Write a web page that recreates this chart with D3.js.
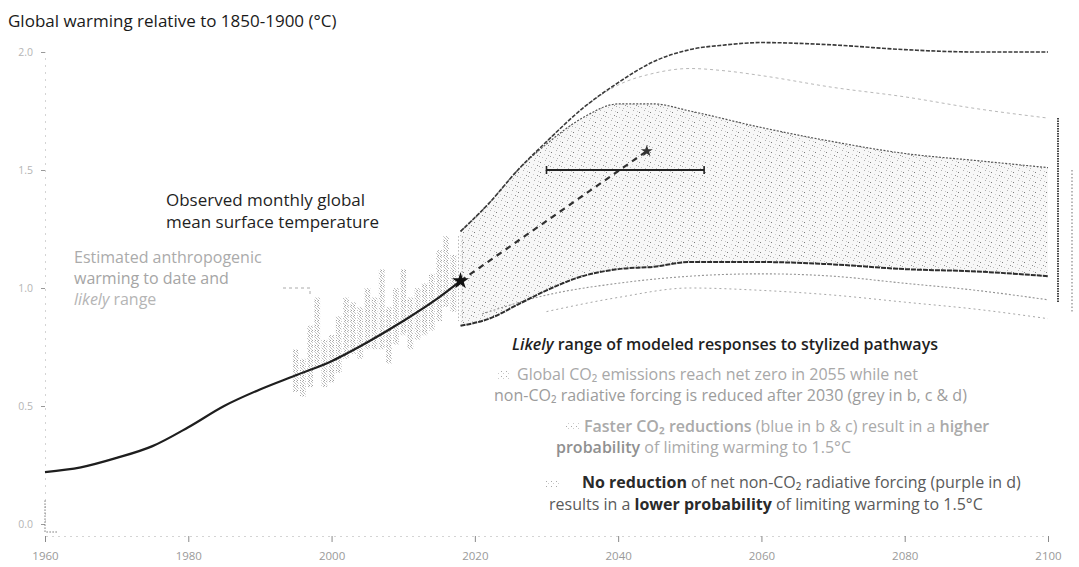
<!DOCTYPE html>
<html>
<head>
<meta charset="utf-8">
<script src="https://cdn.jsdelivr.net/npm/d3@7"></script>
<style>
  html, body { margin: 0; padding: 0; background: #fff; }
  svg { display: block; font-family: "Open Sans", "Noto Sans", sans-serif; }
</style>
</head>
<body>
<svg id="chart" width="1079" height="567"></svg>
<script>
// ---- axis ticks ----
const xTicks = [1960, 1980, 2000, 2020, 2040, 2060, 2080, 2100];
const yTicks = [0, 0.5, 1.0, 1.5, 2.0];

// ---- estimated anthropogenic warming (°C) ----
const anthroYears   = [1960, 1965, 1970, 1975, 1980, 1985, 1990, 1995, 2000, 2005, 2010, 2015, 2018];
const anthroWarming = [0.22, 0.24, 0.28, 0.33, 0.41, 0.50, 0.57, 0.63, 0.69, 0.77, 0.86, 0.96, 1.03];
const anthroLikelyRange = [0.86, 1.22];   // likely range at present day
const presentYear = 2018;

// ---- observed monthly GMST: yearly min / max of the monthly values ----
const obsYears = [1995, 1996, 1997, 1998, 1999, 2000, 2001, 2002, 2003, 2004, 2005, 2006,
                  2007, 2008, 2009, 2010, 2011, 2012, 2013, 2014, 2015, 2016, 2017];
const obsLow  = [0.56, 0.54, 0.58, 0.66, 0.58, 0.60, 0.64, 0.70, 0.72, 0.70, 0.74, 0.74,
                 0.74, 0.68, 0.76, 0.80, 0.74, 0.78, 0.80, 0.82, 0.86, 0.92, 0.90];
const obsHigh = [0.74, 0.70, 0.84, 0.96, 0.78, 0.80, 0.88, 0.96, 0.94, 0.92, 1.00, 0.96,
                 1.08, 0.92, 1.00, 1.08, 0.96, 1.00, 1.02, 1.06, 1.16, 1.22, 1.14];

// ---- current rate of warming continued, and time 1.5°C is reached ----
const trendYears   = [2018, 2044];
const trendWarming = [1.03, 1.58];
const reachLevel = 1.5;
const reachRange = [2030, 2052];

// ---- modelled pathway ranges ----
const plumeYears = [2018, 2022, 2026, 2030, 2035, 2040, 2045, 2050, 2060, 2070, 2080, 2090, 2100];
const greyUpper  = [1.24, 1.36, 1.50, 1.61, 1.72, 1.78, 1.78, 1.75, 1.68, 1.62, 1.57, 1.54, 1.51];
const greyLower  = [0.84, 0.87, 0.93, 0.99, 1.05, 1.08, 1.09, 1.11, 1.11, 1.10, 1.08, 1.07, 1.05];

const purpleYears = [2018, 2022, 2026, 2030, 2035, 2040, 2045, 2050, 2055, 2060, 2070, 2080, 2090, 2100];
const purpleUpper = [1.24, 1.36, 1.50, 1.62, 1.76, 1.87, 1.96, 2.01, 2.03, 2.04, 2.03, 2.01, 2.00, 2.00];

const upperAltYears = [2030, 2035, 2040, 2045, 2050, 2055, 2060, 2070, 2080, 2090, 2100];
const upperAlt      = [1.62, 1.76, 1.86, 1.91, 1.93, 1.92, 1.90, 1.85, 1.81, 1.76, 1.72];

const blueLowerYears = [2021, 2030, 2040, 2050, 2060, 2070, 2080, 2090, 2100];
const blueLower      = [0.89, 0.97, 1.02, 1.05, 1.06, 1.05, 1.02, 0.99, 0.95];

const lowestYears = [2030, 2040, 2050, 2060, 2070, 2080, 2090, 2100];
const lowest      = [0.90, 0.96, 1.00, 0.99, 0.97, 0.94, 0.91, 0.87];

// ranges at 2100
const endRangeDark  = [0.94, 1.72];
const endRangeLight = [0.90, 1.50];

// ---------------------------------------------------------------
const svg = d3.select("#chart");
const x = d3.scaleLinear().domain([1960, 2100]).range([45, 1048]);
const y = d3.scaleLinear().domain([0, 2]).range([524, 52]);
const axisY = 536;

const zip = (xs, ys) => xs.map((v, i) => [v, ys[i]]);

// stipple textures
const defs = svg.append("defs");
function stipple(id, w, h, bg, dots) {
  const p = defs.append("pattern").attr("id", id)
    .attr("patternUnits", "userSpaceOnUse").attr("width", w).attr("height", h);
  if (bg) p.append("rect").attr("width", w).attr("height", h).attr("fill", bg);
  dots.forEach(([dx, dy, c]) => p.append("rect").attr("x", dx).attr("y", dy)
    .attr("width", 1).attr("height", 1).attr("fill", c));
}
stipple("plumeDots", 11, 10, "#f7f7f7",
  [[1, 2, "#7a7a7a"], [6, 0, "#b0b0b0"], [9, 5, "#8c8c8c"], [3, 7, "#c0c0c0"],
   [0, 6, "#a5a5a5"], [7, 8, "#b5b5b5"], [5, 4, "#cfcfcf"], [10, 1, "#c8c8c8"]]);
stipple("obsDots", 3, 5, null,
  [[0, 0, "#a0a0a0"], [0, 2, "#c4c4c4"], [2, 1, "#b4b4b4"], [2, 4, "#d0d0d0"], [1, 3, "#bdbdbd"]]);
stipple("swatchDots", 5, 5, null, [[1, 1, "#aaa"], [3, 3, "#ccc"]]);

// ---- axes ----
const xAxis = d3.axisBottom(x).tickValues(xTicks).tickFormat(d3.format("d"))
  .tickSize(6).tickPadding(10);
const gx = svg.append("g").attr("transform", `translate(0,${axisY})`).call(xAxis);
gx.select(".domain").attr("stroke", "#d4d4d4").attr("stroke-dasharray", "2,4");
gx.selectAll(".tick line").attr("stroke", "#8a8a8a");
gx.selectAll(".tick text").attr("fill", "#9a9a9a").attr("font-size", 11.5)
  .attr("font-family", "'Open Sans', sans-serif");

const yAxis = d3.axisLeft(y).tickValues(yTicks).tickFormat(d3.format(".1f"))
  .tickSize(4).tickPadding(8);
const gy = svg.append("g").attr("transform", `translate(${x(1960)},0)`).call(yAxis);
gy.select(".domain").attr("stroke", "#d4d4d4").attr("stroke-dasharray", "2,5");
gy.selectAll(".tick line").attr("stroke", "#999");
gy.selectAll(".tick text").attr("fill", "#b5b5b5").attr("font-size", 10.5)
  .attr("font-family", "'Open Sans', sans-serif");
svg.append("path")
  .attr("d", `M${x(1960)},${y(0.1)}V${axisY - 4}H${x(1960) + 12}`)
  .attr("fill", "none").attr("stroke", "#777").attr("stroke-dasharray", "1.5,1.5");

// ---- modelled grey plume (stippled) ----
const area = d3.area().curve(d3.curveMonotoneX)
  .x((d, i) => x(plumeYears[i])).y0((d, i) => y(greyLower[i])).y1((d, i) => y(greyUpper[i]));
svg.append("path").datum(plumeYears).attr("d", area).attr("fill", "url(#plumeDots)");

// ---- observed monthly GMST (stippled yearly spread) ----
svg.append("g").selectAll("rect").data(obsYears).join("rect")
  .attr("x", d => x(d - 0.4)).attr("width", d => x(d + 0.4) - x(d - 0.4))
  .attr("y", (d, i) => y(obsHigh[i])).attr("height", (d, i) => y(obsLow[i]) - y(obsHigh[i]))
  .attr("fill", "url(#obsDots)");

// likely range of present-day anthropogenic warming
svg.append("g").selectAll("line").data([-2, 2]).join("line")
  .attr("x1", d => x(presentYear) + d).attr("x2", d => x(presentYear) + d)
  .attr("y1", y(anthroLikelyRange[1])).attr("y2", y(anthroLikelyRange[0]))
  .attr("stroke", "#b5b5b5").attr("stroke-width", 1).attr("stroke-dasharray", "1.5,2");

// ---- pathway range outlines ----
const line = d3.line().curve(d3.curveMonotoneX).x(d => x(d[0])).y(d => y(d[1]));
function outline(xs, ys, stroke, width, dash) {
  svg.append("path").datum(zip(xs, ys)).attr("d", line)
    .attr("fill", "none").attr("stroke", stroke).attr("stroke-width", width)
    .attr("stroke-dasharray", dash);
}
outline(lowestYears, lowest, "#a8a8a8", 1, "2,3");
outline(blueLowerYears, blueLower, "#959595", 1.1, "2,2");
outline(upperAltYears, upperAlt, "#b8b8b8", 1, "3,3");
outline(plumeYears, greyUpper, "#555", 1.2, "2,1.5");
outline(plumeYears, greyLower, "#2e2e2e", 2, "5,1");
outline(purpleYears, purpleUpper, "#3a3a3a", 1.6, "4,1.5");

// ---- estimated anthropogenic warming ----
svg.append("path").datum(zip(anthroYears, anthroWarming)).attr("d", line)
  .attr("fill", "none").attr("stroke", "#1e1e1e").attr("stroke-width", 2.2);

// ---- continuation of current warming rate ----
svg.append("path").datum(zip(trendYears, trendWarming)).attr("d", d3.line().x(d => x(d[0])).y(d => y(d[1])))
  .attr("fill", "none").attr("stroke", "#303030").attr("stroke-width", 2.2).attr("stroke-dasharray", "6,5");

const star = d3.symbol().type(d3.symbolStar);
svg.append("path").attr("d", star.size(90)())
  .attr("transform", `translate(${x(anthroYears[anthroYears.length - 1])},${y(anthroWarming[anthroWarming.length - 1])})`)
  .attr("fill", "#111");
svg.append("path").attr("d", star.size(45)())
  .attr("transform", `translate(${x(trendYears[1])},${y(trendWarming[1])})`)
  .attr("fill", "#333");

// ---- time at which 1.5°C is reached ----
svg.append("line").attr("x1", x(reachRange[0])).attr("x2", x(reachRange[1]))
  .attr("y1", y(reachLevel)).attr("y2", y(reachLevel))
  .attr("stroke", "#222").attr("stroke-width", 2);
svg.append("g").selectAll("line").data(reachRange).join("line")
  .attr("x1", d => x(d)).attr("x2", d => x(d))
  .attr("y1", y(reachLevel) - 4).attr("y2", y(reachLevel) + 4)
  .attr("stroke", "#222").attr("stroke-width", 1.6);

// ---- 2100 range bars ----
svg.append("line").attr("x1", x(2100) + 10).attr("x2", x(2100) + 10)
  .attr("y1", y(endRangeDark[1])).attr("y2", y(endRangeDark[0]))
  .attr("stroke", "#444").attr("stroke-width", 2).attr("stroke-dasharray", "1.5,1");
svg.append("line").attr("x1", x(2100) + 24).attr("x2", x(2100) + 24)
  .attr("y1", y(endRangeLight[1])).attr("y2", y(endRangeLight[0]))
  .attr("stroke", "#999").attr("stroke-width", 1.4).attr("stroke-dasharray", "1.5,2");

// ---- text ----
function label(xp, yp, parts, size, baseFill) {
  const t = svg.append("text").attr("x", xp).attr("y", yp).attr("font-size", size).attr("fill", baseFill);
  parts.forEach(p => {
    const s = t.append("tspan").text(p.t);
    if (p.w) s.attr("font-weight", p.w);
    if (p.i) s.attr("font-style", "italic");
    if (p.f) s.attr("fill", p.f);
  });
  return t;
}

label(8, 27, [{ t: "Global warming relative to 1850-1900 (°C)" }], 17, "#1a1a1a");

label(166, 206, [{ t: "Observed monthly global" }], 17, "#1f1f1f");
label(166, 228, [{ t: "mean surface temperature" }], 17, "#1f1f1f");

label(74, 263, [{ t: "Estimated anthropogenic" }], 16, "#ababab");
label(74, 284, [{ t: "warming to date and" }], 16, "#a5a5a5");
label(74, 305, [{ t: "likely", i: true }, { t: " range" }], 16, "#b5b5b5");
svg.append("path").attr("d", "M283,288H310V294")
  .attr("fill", "none").attr("stroke", "#aaa").attr("stroke-dasharray", "3,3");

label(512, 350, [{ t: "Likely", i: true }, { t: " range of modeled responses to stylized pathways" }], 16, "#1f1f1f")
  .attr("font-weight", 600);

// legend swatches
[[497, 371], [566, 423], [545, 480]].forEach(([sx, sy]) =>
  svg.append("rect").attr("x", sx).attr("y", sy).attr("width", 14).attr("height", 8).attr("fill", "url(#swatchDots)"));

label(517, 380, [{ t: "Global CO₂ emissions reach net zero in 2055 while net" }], 16, "#a8a8a8");
label(494, 401, [{ t: "non-CO₂ radiative forcing is reduced after 2030 (grey in b, c & d)" }], 16, "#9c9c9c");

label(584, 432, [{ t: "Faster CO₂ reductions", w: 600 }, { t: " (blue in b & c) result in a " }, { t: "higher", w: 600 }], 16, "#aaaaaa");
label(556, 453, [{ t: "probability", w: 600, f: "#909090" }, { t: " of limiting warming to 1.5°C" }], 16, "#aaaaaa");

label(582, 488, [{ t: "No reduction", w: 700, f: "#2a2a2a" }, { t: " of net non-CO₂ radiative forcing (purple in d)" }], 16, "#5a5a5a");
label(549, 510, [{ t: "results in a " }, { t: "lower probability", w: 700, f: "#2a2a2a" }, { t: " of limiting warming to 1.5°C" }], 16, "#5a5a5a");
</script>
</body>
</html>
